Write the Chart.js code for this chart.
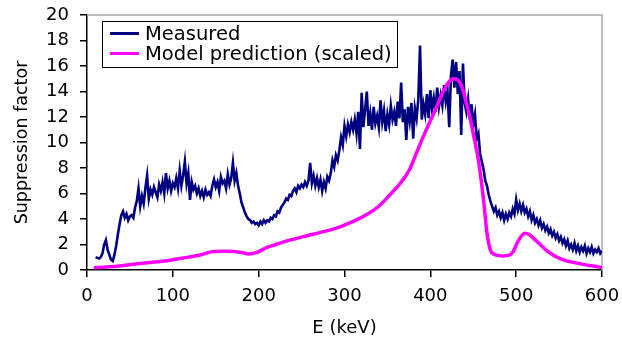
<!DOCTYPE html>
<html>
<head>
<meta charset="utf-8">
<script src="https://cdn.jsdelivr.net/npm/chart.js@4"></script>
<style>
  html, body { margin: 0; padding: 0; background: #fff; }
  #wrap { width: 622px; height: 341px; }
</style>
</head>
<body>
<div id="wrap"><canvas id="supChart" width="622" height="341"></canvas></div>
<script>
// measured suppression factor, every 2 keV from 10 to 600
var measuredStart = 10;
var measuredStep = 2;
var measuredVals = [
  1.0, 0.95, 0.9, 1.0, 1.3, 2.0, 2.35, 1.6, 1.2, 0.8,
  0.7, 1.2, 1.9, 2.8, 3.6, 4.3, 4.6, 4.1, 4.4, 3.9,
  4.2, 4.3, 4.1, 4.9, 5.4, 6.4, 5.0, 5.8, 5.2, 6.4,
  7.4, 5.6, 6.3, 5.9, 6.5, 6.1, 5.7, 6.7, 6.2, 6.9,
  6.0, 7.6, 6.4, 7.0, 6.2, 6.8, 6.5, 7.2, 6.4, 7.8,
  6.6, 7.4, 8.5, 6.8, 7.6, 5.5, 6.9, 6.3, 6.6, 6.0,
  6.4, 5.8, 6.2, 5.7, 6.3, 5.9, 6.1, 5.8, 6.6, 7.1,
  6.5, 6.9, 6.2, 7.3, 6.8, 7.0, 6.4, 7.5, 6.7, 7.2,
  8.4, 7.0, 7.6, 6.6, 6.0, 5.3, 4.9, 4.5, 4.2, 4.0,
  3.9, 3.7, 3.8, 3.6, 3.7, 3.5, 3.8, 3.6, 3.9, 3.7,
  3.9, 3.8, 4.1, 4.0, 4.3, 4.2, 4.6, 4.5, 4.9, 5.1,
  5.3, 5.6, 5.5, 5.9, 5.8, 6.2, 6.4, 6.1, 6.6, 6.4,
  6.7, 6.5, 6.9, 6.6, 7.0, 8.4, 6.8, 7.4, 6.6, 7.2,
  6.5, 7.1, 6.2, 6.9, 6.4, 7.3, 7.0, 7.6, 8.6, 8.1,
  9.0, 8.6, 9.4, 10.4, 9.8, 11.3, 10.5, 11.4, 10.8, 11.6,
  11.0, 11.8, 10.7, 12.4, 9.5, 13.9, 11.2, 12.6, 14.0, 11.3,
  12.3, 11.0, 12.8, 11.5, 12.1, 11.2, 13.3, 11.6, 12.5, 10.9,
  12.2, 11.4, 12.9, 11.8, 12.4, 11.3, 13.2, 11.9, 14.7, 11.6,
  12.6, 10.2, 12.8, 11.7, 13.1, 10.3, 12.7, 11.9, 13.4, 17.6,
  11.8, 13.0, 12.2, 13.8, 11.9, 14.1, 12.6, 13.5, 12.4, 14.3,
  12.8, 13.7, 12.9, 14.5, 13.2, 14.0, 11.2, 15.2, 16.5, 14.3,
  16.3, 13.8, 15.6, 10.6, 16.2, 13.1, 12.4, 13.4, 11.8, 13.0,
  11.4, 12.2, 10.3, 10.7, 9.1, 8.5, 7.9, 7.0, 6.6, 5.9,
  5.4, 5.0, 4.6, 4.9, 4.3, 4.6, 4.1, 4.5, 3.9, 4.4,
  4.0, 4.5, 4.2, 4.8, 4.4, 5.5, 4.7, 5.2, 4.6, 5.1,
  4.5, 4.8, 4.2, 4.6, 3.9, 4.3, 3.7, 4.0, 3.5, 3.9,
  3.3, 3.6, 3.1, 3.4, 2.9, 3.2, 2.7, 3.0, 2.5, 2.8,
  2.3, 2.6, 2.1, 2.4, 1.9, 2.3, 1.7, 2.0, 1.6, 2.1,
  1.5, 1.9, 1.4, 1.8, 1.5, 1.9, 1.3, 1.7, 1.4, 1.8,
  1.3, 1.6, 1.4, 1.7, 1.3, 1.5
];

// model prediction (scaled)
var modelE = [8, 20, 31, 45, 54, 70, 93, 110, 132, 147, 160, 171, 182, 188, 198, 209, 220, 233, 252, 272,
  287, 305, 326, 340, 353, 365, 376, 384, 392, 400, 408, 415, 421, 427, 432, 437, 442, 446, 450, 456,
  462, 466, 470, 474, 478, 485, 493, 497, 501, 506, 510, 515, 520, 528, 536, 545, 555, 565, 575, 588, 600];
var modelVals = [0.18, 0.22, 0.27, 0.38, 0.45, 0.57, 0.73, 0.92, 1.18, 1.45, 1.48, 1.46, 1.35, 1.25, 1.38, 1.75, 2.0, 2.28, 2.62, 2.95,
  3.2, 3.65, 4.35, 5.0, 5.9, 6.8, 7.9, 9.2, 10.5, 11.7, 12.9, 14.0, 14.7, 15.0, 14.9, 14.3, 13.1, 12.0, 10.7, 8.6,
  5.5, 2.9, 1.55, 1.25, 1.15, 1.1, 1.2, 1.5, 2.1, 2.65, 2.88, 2.78, 2.5, 2.0, 1.5, 1.1, 0.8, 0.62, 0.48, 0.33, 0.2];

var xTicks = [0, 100, 200, 300, 400, 500, 600];
var yTicks = [0, 2, 4, 6, 8, 10, 12, 14, 16, 18, 20];

var FONT = "'DejaVu Sans', sans-serif";

var measuredPts = [];
for (var i = 0; i < measuredVals.length; i++) {
  measuredPts.push({ x: measuredStart + i * measuredStep, y: measuredVals[i] });
}
var modelPts = [];
for (var j = 0; j < modelE.length; j++) {
  modelPts.push({ x: modelE[j], y: modelVals[j] });
}

// gray frame on top/right of the plot
var framePlugin = {
  id: 'frame',
  beforeDatasetsDraw: function (chart) {
    var a = chart.chartArea, ctx = chart.ctx;
    ctx.save();
    ctx.strokeStyle = '#a8a8a8';
    ctx.lineWidth = 1.5;
    ctx.beginPath();
    ctx.moveTo(a.left, a.top);
    ctx.lineTo(a.right, a.top);
    ctx.lineTo(a.right, a.bottom);
    ctx.stroke();
    ctx.restore();
  }
};

// boxed legend inside the plot, top left
var boxLegend = {
  id: 'boxLegend',
  afterDraw: function (chart) {
    var ctx = chart.ctx;
    var x0 = 102, y0 = 21, w = 295, h = 46;
    ctx.save();
    ctx.fillStyle = '#fff';
    ctx.fillRect(x0, y0, w, h);
    ctx.strokeStyle = '#000';
    ctx.lineWidth = 1;
    ctx.strokeRect(x0 + 0.5, y0 + 0.5, w, h);
    var rows = [33.5, 53.5];
    ctx.font = '19.5px ' + FONT;
    ctx.textBaseline = 'middle';
    [0, 1].forEach(function (di, k) {
      var ds = chart.data.datasets[di];
      ctx.strokeStyle = ds.borderColor;
      ctx.lineWidth = 3;
      ctx.beginPath();
      ctx.moveTo(110, rows[k]);
      ctx.lineTo(139, rows[k]);
      ctx.stroke();
      ctx.fillStyle = '#000';
      ctx.fillText(ds.label, 145, rows[k] + 1);
    });
    ctx.restore();
  }
};

new Chart(document.getElementById('supChart').getContext('2d'), {
  type: 'line',
  data: {
    datasets: [
      {
        label: 'Measured',
        data: measuredPts,
        borderColor: '#000080',
        borderWidth: 2.6,
        pointRadius: 0,
        tension: 0,
        order: 2
      },
      {
        label: 'Model prediction (scaled)',
        data: modelPts,
        borderColor: '#ff00ff',
        borderWidth: 3.5,
        pointRadius: 0,
        cubicInterpolationMode: 'monotone',
        order: 1
      }
    ]
  },
  options: {
    responsive: false,
    animation: false,
    events: [],
    layout: { padding: { left: 0, right: 20, top: 15, bottom: 0 } },
    plugins: { legend: { display: false }, tooltip: { enabled: false } },
    scales: {
      x: {
        type: 'linear',
        min: 0, max: 600,
        afterBuildTicks: function (s) { s.ticks = xTicks.map(function (v) { return { value: v }; }); },
        afterFit: function (s) { s.height = 71; s.paddingLeft = 0; s.paddingRight = 0; },
        grid: { drawOnChartArea: false, drawTicks: true, tickLength: 7, tickColor: '#000', lineWidth: 1.5 },
        border: { display: true, color: '#000', width: 1.5 },
        ticks: { color: '#000', padding: 9, maxRotation: 0, font: { family: FONT, size: 18 } },
        title: { display: true, text: 'E (keV)', color: '#000', padding: { top: 0, bottom: 2 }, font: { family: FONT, size: 18 } }
      },
      y: {
        min: 0, max: 20,
        afterBuildTicks: function (s) { s.ticks = yTicks.map(function (v) { return { value: v }; }); },
        afterFit: function (s) { s.width = 87; s.paddingTop = 0; s.paddingBottom = 0; },
        grid: { drawOnChartArea: false, drawTicks: true, tickLength: 7, tickColor: '#000', lineWidth: 1.5 },
        border: { display: true, color: '#000', width: 1.5 },
        ticks: { color: '#000', padding: 11, font: { family: FONT, size: 18 } },
        title: { display: true, text: 'Suppression factor', color: '#000', padding: { top: 12, bottom: 0 }, font: { family: FONT, size: 17.5 } }
      }
    }
  },
  plugins: [framePlugin, boxLegend]
});
</script>
</body>
</html>
